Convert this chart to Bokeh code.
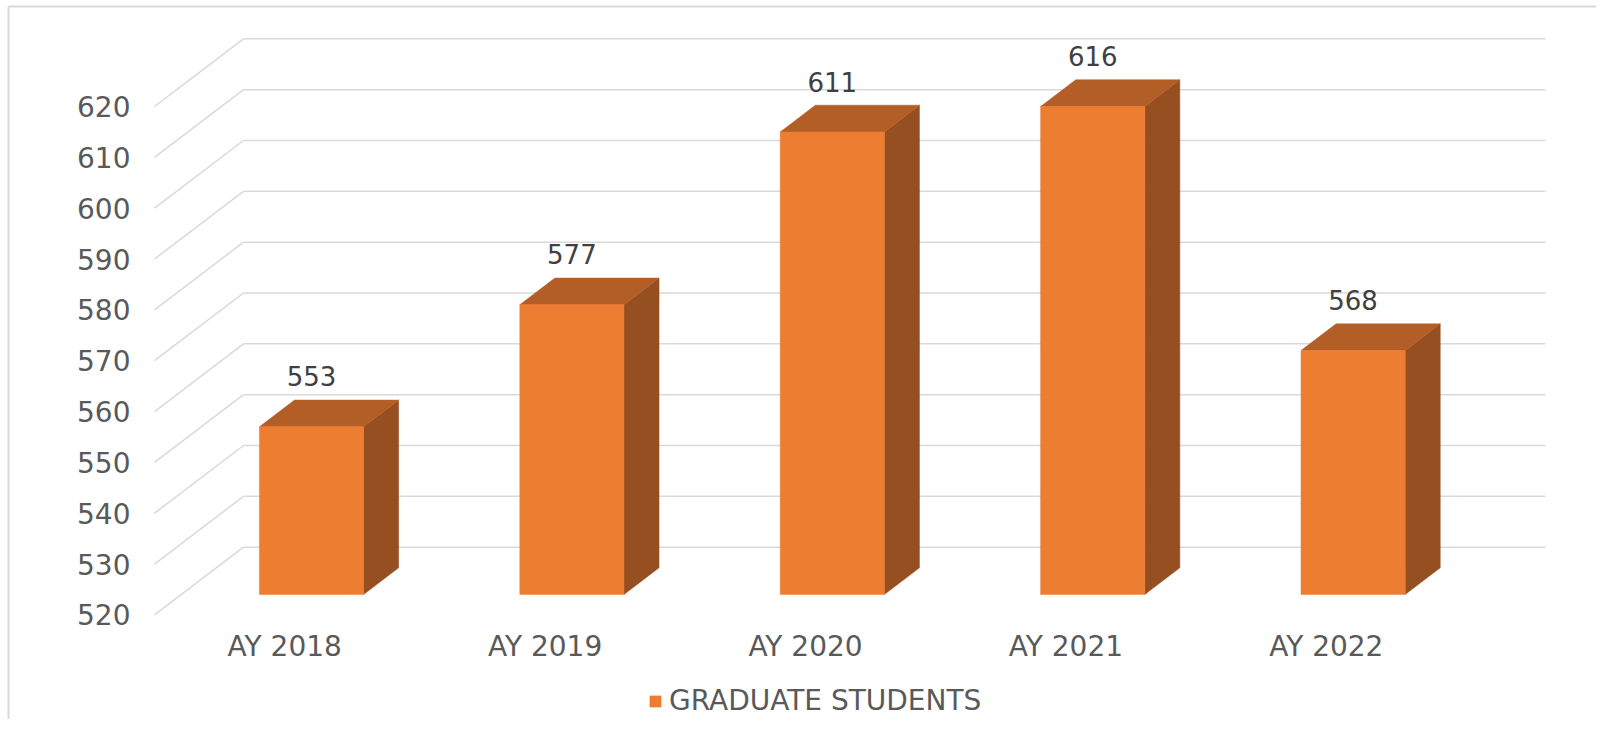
from bokeh.plotting import figure
from bokeh.models import Range1d, Legend, LegendItem
from bokeh.core.properties import value
from bokeh.embed import file_html
from bokeh.resources import INLINE

# ---------------- data ----------------
categories = ["AY 2018", "AY 2019", "AY 2020", "AY 2021", "AY 2022"]
students = [553, 577, 611, 616, 568]
y_ticks = [520, 530, 540, 550, 560, 570, 580, 590, 600, 610, 620]
series_name = "GRADUATE STUDENTS"
y_floor = 520

# ---------------- geometry / style ----------------
W, H = 1596, 719
PX_X = 260.4          # pixels per category slot on the back wall
PX_V = 5.084          # pixels per unit of value
WALL_LEFT = 243.0     # px from left of canvas to back-wall left edge
FLOOR_Y = 546.7       # px from top of canvas to floor line on back wall
DEPTH_DX = -89.0 / PX_X    # full-depth offset in x units
DEPTH_DV = -67.7 / PX_V    # full-depth offset in value units
Z_FRONT, Z_BACK = 0.699, 0.305
HALF_W = 0.2

FONT = "DejaVu Sans"
GRID = "#d9d9d9"
C_FRONT, C_TOP, C_SIDE = "#ED7D31", "#B45E27", "#964F21"

x_range = Range1d(-WALL_LEFT / PX_X, (W - WALL_LEFT) / PX_X)
y_range = Range1d(y_floor - (H - FLOOR_Y) / PX_V, y_floor + FLOOR_Y / PX_V)

p = figure(width=W, height=H, x_range=x_range, y_range=y_range,
           output_backend="svg", toolbar_location=None,
           min_border=0, outline_line_color=None)
p.axis.visible = False
p.grid.visible = False
p.background_fill_color = "white"
p.border_fill_color = "white"

# chart-area border (top and left edges)
x0, x1 = x_range.start, x_range.end
y0, y1 = y_range.start, y_range.end
bx_left = x0 + 8 / PX_X
by_top = y1 - 6 / PX_V
p.segment(x0=[bx_left, bx_left], y0=[by_top, by_top],
          x1=[x1, bx_left], y1=[by_top, y0],
          line_color=GRID, line_width=2)

# back-wall gridlines and left-wall diagonals
n = len(categories)
p.segment(x0=[0] * len(y_ticks), y0=y_ticks, x1=[n] * len(y_ticks), y1=y_ticks,
          line_color=GRID, line_width=1.5)
p.segment(x0=[DEPTH_DX] * len(y_ticks), y0=[t + DEPTH_DV for t in y_ticks],
          x1=[0] * len(y_ticks), y1=y_ticks, line_color=GRID, line_width=1.5)

# y tick labels (at the front edge of the left wall)
p.text(x=[DEPTH_DX] * len(y_ticks), y=[t + DEPTH_DV for t in y_ticks],
       text=[str(t) for t in y_ticks], x_offset=-24,
       text_align="right", text_baseline="middle",
       text_font=value(FONT), text_font_size="28px", text_color="#595959")

# bars as 3D boxes
centers = [i + 0.5 for i in range(n)]
fx = DEPTH_DX * Z_FRONT
fv = DEPTH_DV * Z_FRONT
bx = DEPTH_DX * Z_BACK
bv = DEPTH_DV * Z_BACK

top_xs, top_ys, side_xs, side_ys = [], [], [], []
for c, v in zip(centers, students):
    top_xs.append([c - HALF_W + fx, c + HALF_W + fx, c + HALF_W + bx, c - HALF_W + bx])
    top_ys.append([v + fv, v + fv, v + bv, v + bv])
    side_xs.append([c + HALF_W + fx, c + HALF_W + fx, c + HALF_W + bx, c + HALF_W + bx])
    side_ys.append([v + fv, y_floor + fv, y_floor + bv, v + bv])

p.patches(xs=side_xs, ys=side_ys, fill_color=C_SIDE, line_color=C_SIDE, line_width=0.5)
p.patches(xs=top_xs, ys=top_ys, fill_color=C_TOP, line_color=C_TOP, line_width=0.5)
front = p.quad(left=[c - HALF_W + fx for c in centers],
               right=[c + HALF_W + fx for c in centers],
               bottom=[y_floor + fv] * n, top=[v + fv for v in students],
               fill_color=C_FRONT, line_color=C_FRONT, line_width=0.5)

# data labels
p.text(x=[c + fx for c in centers], y=students, text=[str(v) for v in students],
       y_offset=-3, text_align="center", text_baseline="middle",
       text_font=value(FONT), text_font_size="26px", text_color="#404040")

# category labels (front edge of the floor)
p.text(x=[c + DEPTH_DX for c in centers], y=[y_floor + DEPTH_DV] * n,
       text=categories, y_offset=32, text_align="center", text_baseline="middle",
       text_font=value(FONT), text_font_size="28px", text_color="#595959")

legend = Legend(items=[LegendItem(label=series_name, renderers=[front])],
                location=(648, 2), orientation="horizontal",
                glyph_width=14, glyph_height=14, label_standoff=7,
                padding=0, margin=0, border_line_color=None,
                background_fill_alpha=0,
                label_text_font=FONT, label_text_font_size="28px",
                label_text_color="#595959")
p.add_layout(legend)

open("out.html", "w").write(file_html(p, INLINE))
